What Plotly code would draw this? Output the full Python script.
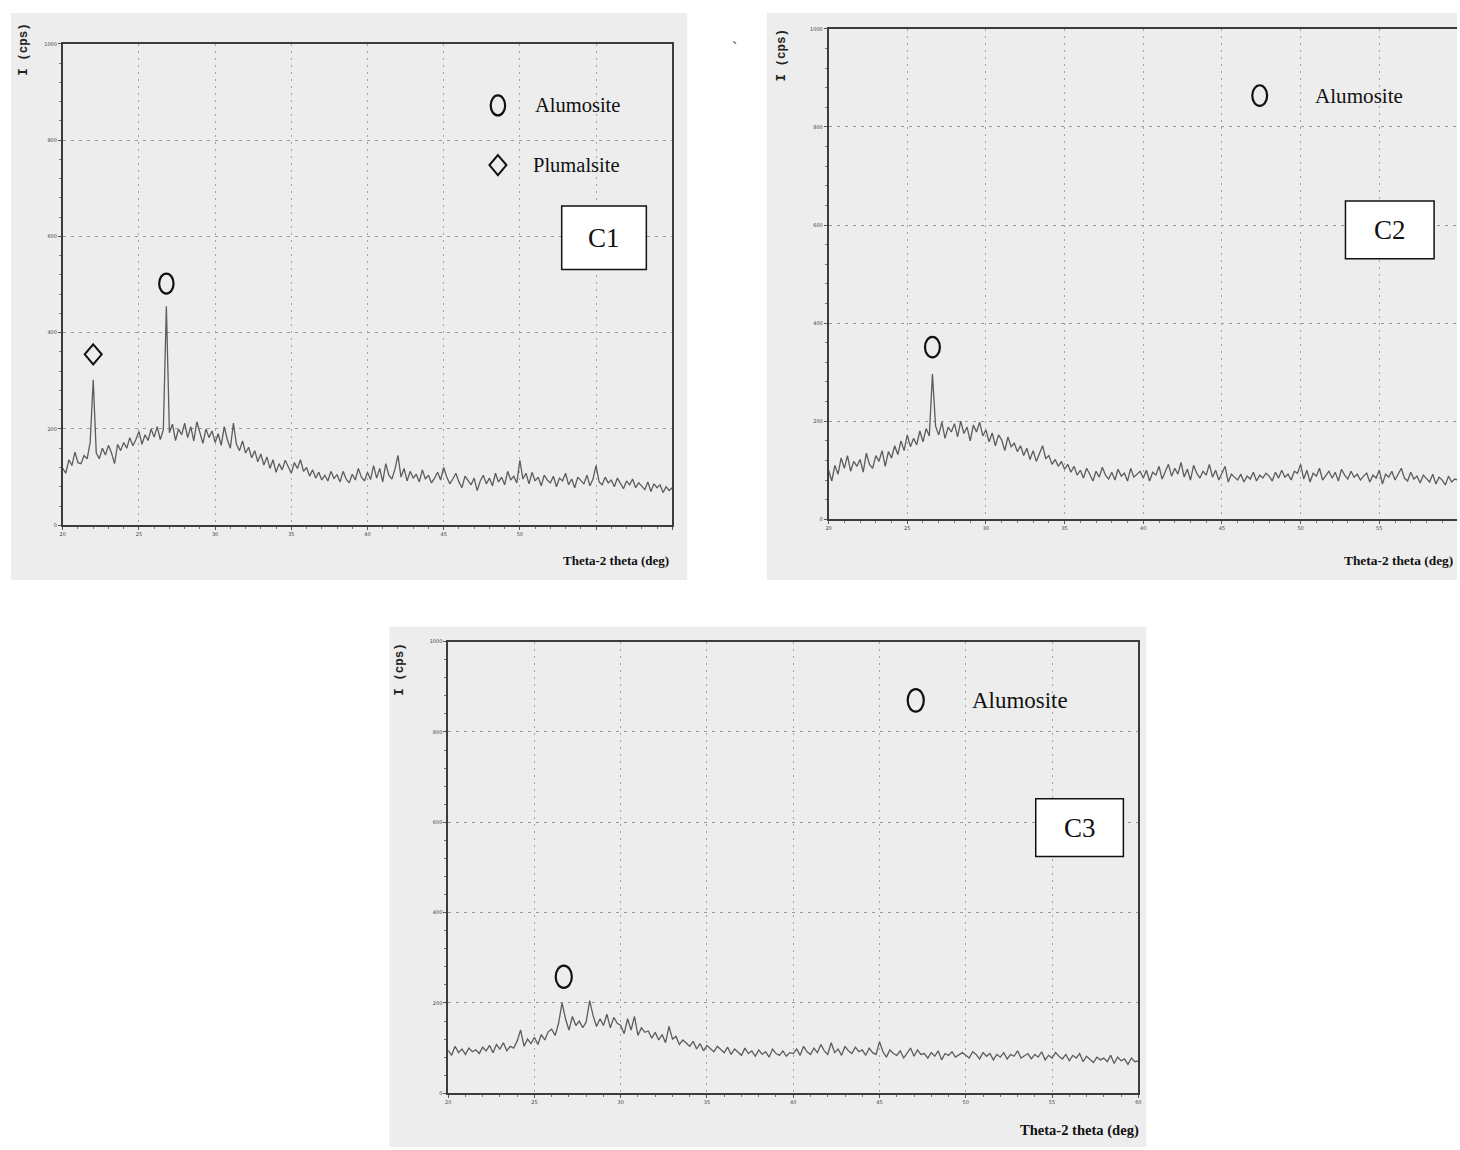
import numpy as np
import plotly.graph_objects as go

W, H = 1460, 1150

# Scan positions, 2θ in degrees (0.2° step)
two_theta = np.round(np.linspace(20.0, 60.0, 201), 1)

# Measured intensity (cps) for the three samples
intensity_c1 = [
    118, 108, 136, 124, 152, 130, 128, 145, 138, 172,
    302, 150, 138, 160, 146, 166, 150, 128, 168, 155,
    172, 160, 182, 165, 178, 195, 168, 188, 176, 200,
    183, 205, 178, 198, 455, 192, 210, 176, 200, 188,
    212, 182, 205, 175, 215, 190, 170, 200, 182, 196,
    172, 190, 166, 205, 178, 160, 212, 168, 155, 175,
    150, 162, 140, 155, 132, 148, 125, 142, 118, 136,
    110, 128, 115, 135, 122, 108, 130, 118, 136, 112,
    120, 102, 115, 98, 110, 94, 104, 92, 112, 97,
    105, 90, 112, 96, 88, 106, 94, 118, 100, 92,
    110, 95, 124, 98, 118, 90, 128, 104, 96, 116,
    145, 100, 118, 92, 112, 98, 106, 90, 115, 96,
    104, 88, 98, 110, 94, 120, 100, 86, 96, 108,
    90, 78, 102, 94, 84, 98, 72, 92, 104, 86,
    98, 82, 108, 90, 100, 84, 112, 94, 102, 88,
    135, 96, 108, 86, 110, 92, 100, 82, 104, 94,
    88, 102, 80, 98, 92, 108, 84, 96, 78, 100,
    92, 86, 104, 82, 96, 124, 90, 84, 100, 88,
    94, 80, 98, 86, 76, 92, 84, 96, 78, 88,
    82, 74, 90, 70, 86, 78, 84, 68, 80, 72,
    78,
]

intensity_c2 = [
    100, 78, 110, 92, 125, 104, 130, 98, 118, 108,
    122, 96, 135, 112, 104, 130, 118, 140, 108, 138,
    125, 150, 132, 160, 140, 172, 148, 165, 152, 180,
    158, 185, 170, 296, 190, 172, 198, 165, 188, 178,
    195, 168, 200, 175, 188, 160, 192, 178, 198, 170,
    182, 158, 176, 150, 172, 162, 140, 168, 148, 155,
    138, 150, 130, 145, 122, 140, 118, 135, 150, 124,
    130, 112, 122, 108, 118, 102, 112, 96, 108, 90,
    100, 84, 104, 92, 78, 98, 86, 106, 90, 82,
    96, 80, 102, 88, 94, 78, 104, 86, 92, 98,
    84, 100, 78, 96, 90, 108, 82, 98, 112, 88,
    104, 92, 116, 86, 102, 80, 110, 94, 84, 98,
    90, 112, 86, 100, 80, 94, 108, 76, 92, 86,
    80, 92, 76, 88, 82, 96, 78, 90, 84, 94,
    88, 78, 96, 84, 100, 86, 92, 80, 98, 94,
    112, 82, 100, 76, 94, 88, 104, 80, 90, 98,
    84, 96, 78, 102, 90, 82, 98, 86, 92, 80,
    88, 94, 76, 90, 84, 100, 72, 92, 86, 98,
    80, 92, 104, 84, 78, 96, 82, 88, 74, 90,
    84, 76, 92, 72, 86, 80, 70, 88, 76, 82,
    80,
]

intensity_c3 = [
    95, 84, 104, 90, 98, 86, 100, 92, 96, 88,
    102, 94, 106, 90, 108, 98, 112, 94, 104, 100,
    116, 140, 104, 120, 110, 124, 108, 130, 118, 136,
    142, 128, 155, 200, 165, 140, 170, 150, 160, 145,
    158, 205, 172, 148, 165, 150, 175, 145, 168, 155,
    150, 132, 165, 140, 170, 128, 145, 135, 138, 122,
    135, 118, 130, 112, 148, 120, 126, 108, 118, 112,
    104, 115, 98, 110, 94, 106, 100, 92, 104, 96,
    90, 102, 86, 98, 92, 84, 100, 88, 94, 82,
    96, 86, 92, 80, 98, 88, 84, 94, 82, 90,
    88, 98, 84, 104, 92, 86, 100, 90, 108, 94,
    86, 112, 90, 98, 84, 104, 94, 88, 102, 92,
    96, 84, 100, 90, 86, 114, 92, 80, 96, 88,
    84, 94, 78, 90, 100, 82, 96, 86, 88, 78,
    90, 82, 94, 74, 88, 84, 92, 80, 86, 90,
    84, 78, 92, 86, 76, 90, 82, 88, 74, 86,
    80, 90, 76, 86, 82, 94, 78, 84, 88, 76,
    86, 80, 92, 74, 84, 78, 90, 82, 76, 86,
    72, 84, 78, 88, 70, 82, 76, 68, 80, 74,
    78, 70, 84, 66, 80, 72, 76, 64, 78, 70,
    72,
]

# Identified reflections: 2θ position, height of the phase symbol, phase
peaks_c1_theta = [22.0, 26.8]
peaks_c1_symbol_y = [355, 502]
peaks_c1_phase = ["Plumalsite", "Alumosite"]

peaks_c2_theta = [26.6]
peaks_c2_symbol_y = [351]
peaks_c2_phase = ["Alumosite"]

peaks_c3_theta = [26.7]
peaks_c3_symbol_y = [258]
peaks_c3_phase = ["Alumosite"]

x_tick_vals = [20, 25, 30, 35, 40, 45, 50, 55, 60]
y_tick_vals = [0, 200, 400, 600, 800, 1000]
x_tick_text_c1 = ["20", "25", "30", "35", "40", "45", "50", "", ""]
x_tick_text_full = ["20", "25", "30", "35", "40", "45", "50", "55", "60"]


def px(x):
    return x / W


def py(y):
    return 1 - y / H


# Panel geometry in page pixels
panels = [
    dict(key="", frame=(8, 10, 687, 580), plot=(60, 41, 672, 525), xmax=60.0,
         y=intensity_c1, mirror_y=True, ticktext=x_tick_text_c1,
         peaks=(peaks_c1_theta, peaks_c1_symbol_y, peaks_c1_phase),
         legend=[("Alumosite", 48.56, 872, 50.85), ("Plumalsite", 48.56, 748, 50.7)],
         label="C1", label_box=(561, 204, 646, 268), scale=1.0,
         ytitle=(21, 46), xtitle=(616, 560, "center")),
    dict(key="2", frame=(767, 10, 1460, 580), plot=(829, 26, 1460, 519), xmax=59.94,
         y=intensity_c2, mirror_y=False, ticktext=x_tick_text_full,
         peaks=(peaks_c2_theta, peaks_c2_symbol_y, peaks_c2_phase),
         legend=[("Alumosite", 47.4, 864, 50.76)],
         label="C2", label_box=(1348, 199, 1437, 257), scale=1.03,
         ytitle=(782, 52), xtitle=(1458, 560, "right")),
    dict(key="3", frame=(388, 627, 1148, 1150), plot=(447, 642, 1140, 1096), xmax=60.0,
         y=intensity_c3, mirror_y=True, ticktext=x_tick_text_full,
         peaks=(peaks_c3_theta, peaks_c3_symbol_y, peaks_c3_phase),
         legend=[("Alumosite", 47.1, 870, 50.22)],
         label="C3", label_box=(1037, 800, 1125, 858), scale=1.12,
         ytitle=(398, 670), xtitle=(1081, 1133, "center")),
]

fig = go.Figure()
shapes = []
annotations = []
layout_axes = {}

circle_half = (7.2, 10)   # half width / half height of the "O" symbol (px)
diamond_half = (8.5, 10)


def circle_shape(xref, yref, x, y, s=1.0):
    return dict(type="circle", xref=xref, yref=yref,
                xsizemode="pixel", ysizemode="pixel", xanchor=x, yanchor=y,
                x0=-circle_half[0] * s, x1=circle_half[0] * s,
                y0=-circle_half[1] * s, y1=circle_half[1] * s,
                line=dict(color="#111111", width=2.2), fillcolor="rgba(0,0,0,0)",
                layer="above")


def diamond_shape(xref, yref, x, y, s=1.0):
    hx, hy = diamond_half[0] * s, diamond_half[1] * s
    return dict(type="path", xref=xref, yref=yref,
                xsizemode="pixel", ysizemode="pixel", xanchor=x, yanchor=y,
                path=f"M0,{hy} L{hx},0 L0,{-hy} L{-hx},0 Z",
                line=dict(color="#111111", width=2), fillcolor="rgba(0,0,0,0)",
                layer="above")


for p in panels:
    k = p["key"]
    xa, ya = "xaxis" + k, "yaxis" + k
    xr, yr = "x" + k, "y" + k
    fx0, fy0, fx1, fy1 = p["frame"]
    l, t, r, b = p["plot"]
    s = p["scale"]

    # light grey page background of each panel
    shapes.append(dict(type="rect", xref="paper", yref="paper",
                       x0=px(fx0), x1=px(fx1), y0=py(fy1), y1=py(fy0),
                       fillcolor="#ededed", line=dict(width=0), layer="below"))

    layout_axes[xa] = dict(
        domain=[px(l), px(r)], range=[20, p["xmax"]], anchor=yr,
        tickmode="array", tickvals=x_tick_vals, ticktext=p["ticktext"],
        showgrid=True, gridcolor="#a3a3a3", gridwidth=1, griddash="2px,5px",
        showline=True, linecolor="#3c3c3c", linewidth=1.6, mirror=True,
        ticks="outside", ticklen=3, tickcolor="#555", tickwidth=1,
        tickfont=dict(family="DejaVu Sans", size=5, color="#444"),
        minor=dict(tickmode="linear", tick0=20, dtick=1, ticks="outside",
                   ticklen=2, tickcolor="#777", showgrid=False),
        zeroline=False, fixedrange=True,
    )
    layout_axes[ya] = dict(
        domain=[py(b), py(t)], range=[0, 1000], anchor=xr,
        tickmode="array", tickvals=y_tick_vals,
        showgrid=True, gridcolor="#9e959c", gridwidth=1, griddash="3px,5px",
        showline=True, linecolor="#3c3c3c", linewidth=1.6, mirror=p["mirror_y"],
        ticks="outside", ticklen=3, tickcolor="#555", tickwidth=1,
        tickfont=dict(family="DejaVu Sans", size=5, color="#444"),
        minor=dict(tickmode="linear", tick0=0, dtick=40, ticks="outside",
                   ticklen=2, tickcolor="#777", showgrid=False),
        zeroline=False, fixedrange=True,
    )

    fig.add_trace(go.Scatter(
        x=two_theta, y=p["y"], mode="lines", xaxis=xr, yaxis=yr,
        line=dict(color="#5c5c5c", width=1.3), hoverinfo="skip",
    ))

    # phase symbols above the identified reflections
    for th, sy, phase in zip(*p["peaks"]):
        if phase == "Alumosite":
            shapes.append(circle_shape(xr, yr, th, sy, s))
        else:
            shapes.append(diamond_shape(xr, yr, th, sy, s))

    # phase key
    for name, sym_x, sym_y, text_x in p["legend"]:
        if name == "Alumosite":
            shapes.append(circle_shape(xr, yr, sym_x, sym_y, s))
        else:
            shapes.append(diamond_shape(xr, yr, sym_x, sym_y, s))
        annotations.append(dict(
            x=text_x, y=sym_y, xref=xr, yref=yr, text=name, showarrow=False,
            xanchor="left", yanchor="middle",
            font=dict(family="Liberation Serif", size=20.5 * s, color="#111"),
        ))

    # sample label box
    bx0, by0, bx1, by1 = p["label_box"]
    shapes.append(dict(type="rect", xref="paper", yref="paper",
                       x0=px(bx0), x1=px(bx1), y0=py(by1), y1=py(by0),
                       fillcolor="white", line=dict(color="#111", width=1.5),
                       layer="above"))
    annotations.append(dict(
        x=px((bx0 + bx1) / 2), y=py((by0 + by1) / 2), xref="paper", yref="paper",
        text=p["label"], showarrow=False, xanchor="center", yanchor="middle",
        font=dict(family="Liberation Serif", size=27, color="#111"),
    ))

    # axis titles
    tx, ty = p["ytitle"]
    annotations.append(dict(
        x=px(tx), y=py(ty), xref="paper", yref="paper", text="<b>I (cps)</b>",
        textangle=-90, showarrow=False, xanchor="center", yanchor="middle",
        font=dict(family="Liberation Mono", size=12.5, color="#222"),
    ))
    xx, xy, anchor = p["xtitle"]
    annotations.append(dict(
        x=px(xx), y=py(xy), xref="paper", yref="paper",
        text="<b>Theta-2 theta (deg)</b>", showarrow=False,
        xanchor=anchor, yanchor="middle",
        font=dict(family="Liberation Serif", size=13 * s, color="#111"),
    ))

# stray mark between the two upper panels
annotations.append(dict(x=px(735), y=py(34), xref="paper", yref="paper", text="`",
                        showarrow=False, font=dict(family="Liberation Serif", size=16, color="#333")))

fig.update_layout(
    width=W, height=H,
    margin=dict(l=0, r=0, t=0, b=0),
    paper_bgcolor="white", plot_bgcolor="#ededed",
    showlegend=False,
    shapes=shapes, annotations=annotations,
    **layout_axes,
)

fig.write_html("out.html", config={"displayModeBar": False})
